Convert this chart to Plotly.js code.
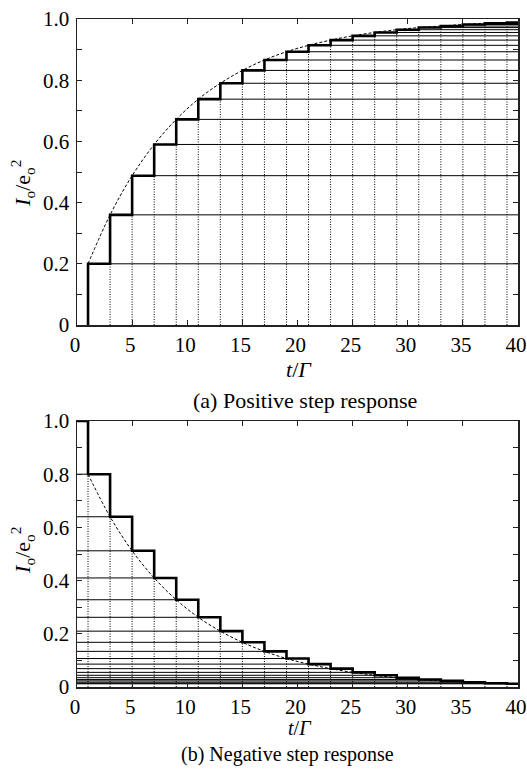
<!DOCTYPE html>
<html>
<head>
<meta charset="utf-8">
<script src="https://cdn.plot.ly/plotly-3.0.1.min.js"></script>
<style>html,body{margin:0;padding:0;background:#fff;}#chart{width:527px;height:769px;}</style>
</head>
<body>
<div id="chart"></div>
<script>
// Step instants (t/Γ)
const stepTimes = [1,3,5,7,9,11,13,15,17,19,21,23,25,27,29,31,33,35,37,39];
// (a) Positive step response: level reached after each step
const posLevels = [0.2,0.36,0.488,0.59,0.672,0.738,0.79,0.832,0.866,0.893,0.914,0.931,0.945,0.956,0.965,0.972,0.977,0.982,0.986,0.988];
const posStart = 0;
// (b) Negative step response: level reached after each step
const negLevels = [0.8,0.64,0.512,0.41,0.328,0.262,0.21,0.168,0.134,0.107,0.086,0.069,0.055,0.044,0.035,0.028,0.023,0.018,0.014,0.012];
const negStart = 1.0;
const xEnd = 40;
const xTickVals = [0,5,10,15,20,25,30,35,40];
const yTickVals = [0,0.2,0.4,0.6,0.8,1.0];
const yTickText = ["0","0.2","0.4","0.6","0.8","1.0"];

const FONT = "'Liberation Serif', 'Times New Roman', Times, 'DejaVu Serif', serif";

function seg(pairs){
  const x=[],y=[];
  pairs.forEach(p=>{x.push(p[0],p[2],null);y.push(p[1],p[3],null);});
  return {x,y};
}

const traces = [];
function addPanel(levels, start, xa, ya, positive){
  const dv = seg(stepTimes.map((t,i)=>[t,0,t,levels[i]]));
  traces.push({x:dv.x,y:dv.y,xaxis:xa,yaxis:ya,mode:'lines',line:{color:'#000',width:1,dash:'1px,1.5px'},hoverinfo:'skip'});
  const hz = seg(stepTimes.map((t,i)=> positive ? [t,levels[i],xEnd,levels[i]] : [0,levels[i],t,levels[i]]));
  traces.push({x:hz.x,y:hz.y,xaxis:xa,yaxis:ya,mode:'lines',line:{color:'#000',width:1},hoverinfo:'skip'});
  traces.push({x:stepTimes,y:levels,xaxis:xa,yaxis:ya,mode:'lines',line:{color:'#000',width:1,dash:'3px,2px',shape:'spline'},hoverinfo:'skip'});
  const sx = [positive ? stepTimes[0] : 0].concat(stepTimes).concat([xEnd]);
  const sy = [start].concat(levels).concat([levels[levels.length-1]]);
  traces.push({x:sx,y:sy,xaxis:xa,yaxis:ya,mode:'lines',line:{color:'#000',width:2.6,shape:'hv'},hoverinfo:'skip'});
}
addPanel(posLevels, posStart, 'x', 'y', true);
addPanel(negLevels, negStart, 'x2', 'y2', false);

function xax(anchor){
  return {range:[0,40],anchor:anchor,tickvals:xTickVals,ticktext:xTickVals.map(String),ticks:'inside',ticklen:5,tickwidth:1,
    tickcolor:'#222',showline:true,linecolor:'#222',linewidth:1.5,mirror:'ticks',showgrid:false,zeroline:false,
    ticklabelshift:-2,
    tickfont:{family:FONT,size:21,color:'#000'},fixedrange:true};
}
function yax(anchor,domain){
  return {range:[0,1],anchor:anchor,domain:domain,tickvals:yTickVals,ticktext:yTickText,ticks:'inside',ticklen:5,tickwidth:1,
    tickcolor:'#222',showline:true,linecolor:'#222',linewidth:1.5,mirror:'ticks',showgrid:false,zeroline:false,
    minor:{tickmode:'linear',tick0:0,dtick:0.1,ticks:'inside',ticklen:5,tickwidth:1,tickcolor:'#222',showgrid:false},
    ticklabelstandoff:2,
    tickfont:{family:FONT,size:21,color:'#000'},fixedrange:true};
}

const ylab = "<i>I</i><sub>o</sub>/e<sub>o</sub><sup>2</sup>";
const layout = {
  width:527,height:769,autosize:false,
  margin:{l:77,r:9,t:19,b:82},
  paper_bgcolor:'#fff',plot_bgcolor:'#fff',
  font:{family:FONT,color:'#000'},
  showlegend:false,
  xaxis:xax('y'),
  yaxis:yax('x',[0.5419,1]),
  xaxis2:xax('y2'),
  yaxis2:yax('x2',[0,0.3982]),
  annotations:[
    {text:ylab,xref:'paper',yref:'paper',x:-0.1227,y:0.7545,textangle:-90,showarrow:false,xanchor:'center',yanchor:'middle',font:{family:FONT,size:22,color:'#000'}},
    {text:ylab,xref:'paper',yref:'paper',x:-0.1227,y:0.2051,textangle:-90,showarrow:false,xanchor:'center',yanchor:'middle',font:{family:FONT,size:22,color:'#000'}},
    {text:"<i>t</i>/<i>Γ</i>",xref:'paper',yref:'paper',x:0.503,y:0.4746,showarrow:false,xanchor:'center',yanchor:'middle',font:{family:FONT,size:22,color:'#000'}},
    {text:"<i>t</i>/<i>Γ</i>",xref:'paper',yref:'paper',x:0.505,y:-0.0614,showarrow:false,xanchor:'center',yanchor:'middle',borderpad:0,font:{family:FONT,size:20,color:'#000'}},
    {text:"(a) Positive step response",xref:'paper',yref:'paper',x:0.518,y:0.4296,showarrow:false,xanchor:'center',yanchor:'middle',font:{family:FONT,size:22,color:'#000'}},
    {text:"(b) Negative step response",xref:'paper',yref:'paper',x:0.477,y:-0.1205,showarrow:false,xanchor:'center',yanchor:'bottom',borderpad:0,font:{family:FONT,size:20,color:'#000'}}
  ]
};
Plotly.newPlot('chart',traces,layout,{displayModeBar:false,staticPlot:true});
</script>
</body>
</html>
